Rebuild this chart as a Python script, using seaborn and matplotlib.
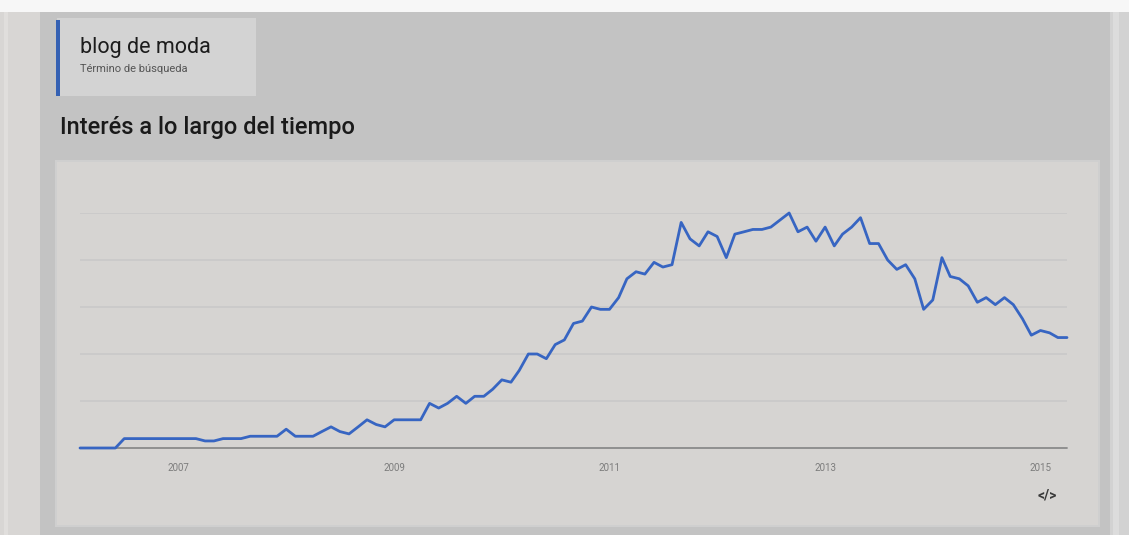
import numpy as np
import pandas as pd
import matplotlib
matplotlib.use('Agg')
import matplotlib.pyplot as plt
from matplotlib.patches import Rectangle
import seaborn as sns

# monthly interest, Feb 2006 .. Apr 2015 (Google Trends, 0-100)
start_month = '2006-02-01'
interest = [0, 0, 0, 0, 0, 4, 4, 4, 4, 4, 4, 4, 4, 4,
            3, 3, 4, 4, 4, 5, 5, 5, 5, 8, 5, 5, 5, 7,
            9, 7, 6, 9, 12, 10, 9, 12, 12, 12, 12, 19, 17, 19,
            22, 19, 22, 22, 25, 29, 28, 33, 40, 40, 38, 44, 46, 53,
            54, 60, 59, 59, 64, 72, 75, 74, 79, 77, 78, 96, 89, 86,
            92, 90, 81, 91, 92, 93, 93, 94, 97, 100, 92, 94, 88, 94,
            86, 91, 94, 98, 87, 87, 80, 76, 78, 72, 59, 63, 81, 73,
            72, 69, 62, 64, 61, 64, 61, 55, 48, 50, 49, 47, 47]
tick_years = [2007, 2009, 2011, 2013, 2015]
term = 'blog de moda'
term_sub = 'Término de búsqueda'
title = 'Interés a lo largo del tiempo'

W, H = 1129, 535

def px_rect(fig, x0, y0, x1, y1, color, z=0):
    fig.add_artist(Rectangle((x0 / W, 1 - y1 / H), (x1 - x0) / W, (y1 - y0) / H,
                             transform=fig.transFigure, facecolor=color,
                             edgecolor='none', zorder=z))

def px_text(fig, x, y, s, **kw):
    fig.text(x / W, 1 - y / H, s, **kw)

sns.set_theme(style='white')
plt.rcParams['font.family'] = ['Roboto', 'DejaVu Sans']

df = pd.DataFrame({'date': pd.date_range(start_month, periods=len(interest), freq='MS'),
                   'interest': interest})

fig = plt.figure(figsize=(W / 100, H / 100), dpi=100, facecolor='#c3c3c3')

# page pieces around the chart
px_rect(fig, 0, 0, 40, H, '#d8d6d4')
px_rect(fig, 4, 12, 8, H, '#e0dedc')
px_rect(fig, 1110, 0, W, H, '#d2d2d2')
px_rect(fig, 1113, 0, 1119, H, '#dcdcdc')
px_rect(fig, 0, 0, W, 12, '#f7f7f7')
px_rect(fig, 55, 160, 1100, 527, '#cfcfcf')
px_rect(fig, 57, 162, 1098, 525, '#d6d4d2')
px_rect(fig, 57, 18, 256, 96, '#d3d3d3')
px_rect(fig, 56, 20, 60, 96, '#3561b3')

px_text(fig, 80, 53, term, fontsize=15.5, color='#1c1c1c', va='baseline')
px_text(fig, 80, 72, term_sub, fontsize=8, color='#555555', va='baseline')
px_text(fig, 60, 134, title, fontsize=17, color='#1a1a1a', va='baseline',
        fontweight='medium')
px_text(fig, 1047, 495, '</>', fontsize=10, color='#3a3a3a', va='center', ha='center',
        fontweight='bold')

ax = fig.add_axes([80 / W, 1 - 448 / H, (1067 - 80) / W, (448 - 213) / H])
ax.set_facecolor('none')
sns.lineplot(data=df, x='date', y='interest', ax=ax, color='#3765c2',
             linewidth=2.0, clip_on=False, zorder=5)

ax.set_xlim(df['date'].iloc[0], df['date'].iloc[-1])
ax.set_ylim(0, 100)
for v in [20, 40, 60, 80, 100]:
    ax.axhline(v, color='#c9c9c9', linewidth=1.2, zorder=1)
ax.axhline(0, color='#8a8a8a', linewidth=1.3, zorder=2, clip_on=False)

ax.set_xticks([pd.Timestamp(f'{y}-01-01') for y in tick_years])
ax.set_xticklabels([str(y) for y in tick_years], fontsize=7, color='#7c7c7c')
ax.tick_params(axis='x', length=0, pad=11)
ax.set_yticks([])
ax.set_xlabel('')
ax.set_ylabel('')
for s in ax.spines.values():
    s.set_visible(False)

fig.savefig('out.png', dpi=100, facecolor=fig.get_facecolor())
